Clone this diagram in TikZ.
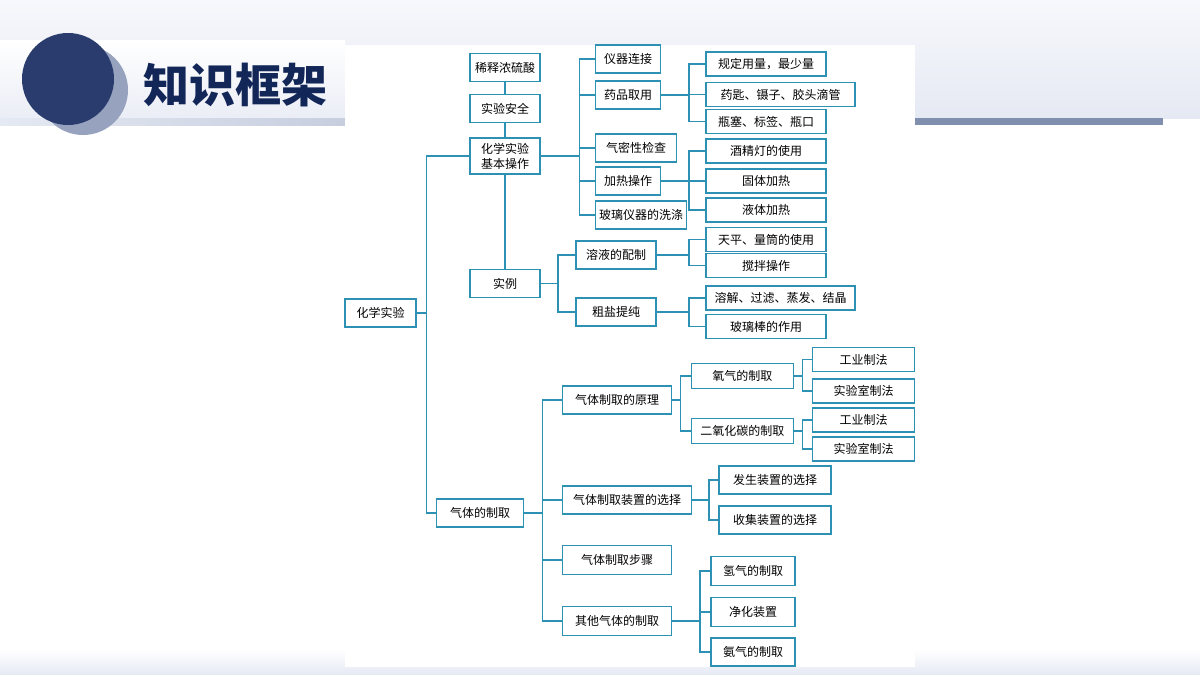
\documentclass[tikz,border=0pt]{standalone}
\usepackage{fontspec}
\setmainfont{Noto Sans CJK SC}
\usetikzlibrary{calc,positioning}
\definecolor{my_line}{RGB}{45,145,180}
\definecolor{my_navy}{RGB}{42,60,110}
\definecolor{my_shadow}{RGB}{150,162,190}
\definecolor{my_title}{RGB}{18,38,88}
\definecolor{my_bar}{RGB}{128,143,173}
\definecolor{my_top}{RGB}{247,248,252}
\definecolor{my_mid}{RGB}{229,233,243}
\tikzset{
  box_n/.style = {draw=my_line, line width=1.1pt, fill=white, inner sep=0pt, align=center,
  text=black, font=\fontsize{12}{15}\selectfont, minimum height=28pt},
  box_s/.style = {box_n, minimum height=24pt},
  link/.style = {draw=my_line, line width=1.1pt}
}

\begin{document}
\begin{tikzpicture}[x=1pt, y=-1pt]
  \useasboundingbox (0,0) rectangle (1200,675);
  % background
  \fill[white] (0,0) rectangle (1200,675);
  \shade[top color=my_top, bottom color=my_mid] (0,0) rectangle (1200,118);
  \shade[top color=white, bottom color=my_mid!80!white] (0,40) rectangle (345,118);
  \shade[left color=my_mid, right color=my_mid!70!my_bar] (0,118) rectangle (345,125);
  \fill[my_bar] (345,118) rectangle (1163,125);
  \shade[top color=white, bottom color=my_mid] (0,650) rectangle (1200,675);
  \fill[white] (345,45) rectangle (915,667);
  % title
  \fill[my_shadow] (83,90) circle (45);
  \fill[my_navy] (68,79) circle (46);
  \node[font=\fontsize{46}{50}\selectfont\bfseries, text=my_title] (title) at (235,85) {知识框架};

  % first level
  \node [box_n, minimum width=71pt] (hx) at (380.5,313) {化学实验};
  \node [box_n, minimum width=70pt] (xs) at (505,67.5) {稀释浓硫酸};
  \node [box_n, minimum width=70pt] (aq) at (505,108.5) {实验安全};
  \node [box_n, minimum width=70pt, minimum height=36pt] (jc) at (505,156) {化学实验\\基本操作};
  \node [box_n, minimum width=70pt] (sl) at (505,283.5) {实例};
  \node [box_n, minimum width=86.5pt] (qt) at (480,513) {气体的制取};

  % basic operations
  \node [box_n, minimum width=65pt] (yq) at (628,59) {仪器连接};
  \node [box_n, minimum width=65pt] (yp) at (628,95) {药品取用};
  \node [box_n, minimum width=80.5pt] (qm) at (636,148) {气密性检查};
  \node [box_n, minimum width=65pt] (jr) at (628,181) {加热操作};
  \node [box_n, minimum width=90.5pt] (bl) at (641,215) {玻璃仪器的洗涤};
  \node [box_s, minimum width=120pt] (gd) at (766,64) {规定用量，最少量};
  \node [box_s, minimum width=149pt] (yc) at (780.5,94.5) {药匙、镊子、胶头滴管};
  \node [box_s, minimum width=120pt] (ps) at (766,121.5) {瓶塞、标签、瓶口};
  \node [box_s, minimum width=120pt] (jj) at (766,151) {酒精灯的使用};
  \node [box_s, minimum width=120pt] (gt) at (766,181) {固体加热};
  \node [box_s, minimum width=120pt] (yt) at (766,210) {液体加热};

  % examples
  \node [box_n, minimum width=80pt] (rp) at (616,255) {溶液的配制};
  \node [box_n, minimum width=80pt] (cy) at (616,312) {粗盐提纯};
  \node [box_s, minimum width=120pt] (tp) at (766,239.5) {天平、量筒的使用};
  \node [box_s, minimum width=120pt] (jb) at (766,265.5) {搅拌操作};
  \node [box_s, minimum width=149pt] (rj) at (780.5,298) {溶解、过滤、蒸发、结晶};
  \node [box_s, minimum width=120pt] (bb) at (766,326.5) {玻璃棒的作用};

  % gas preparation
  \node [box_n, minimum width=109pt] (yl) at (617,400) {气体制取的原理};
  \node [box_n, minimum width=129pt] (zz) at (627,500) {气体制取装置的选择};
  \node [box_n, minimum width=109pt, minimum height=29pt] (bz) at (617,560) {气体制取步骤};
  \node [box_n, minimum width=109pt, minimum height=29pt] (qs) at (617,621) {其他气体的制取};
  \node [box_s, minimum width=101.5pt, minimum height=25pt] (o2) at (742.3,376) {氧气的制取};
  \node [box_s, minimum width=101.5pt, minimum height=25pt] (co) at (742.3,431) {二氧化碳的制取};
  \node [box_s, minimum width=101.5pt] (o2a) at (863.5,359.5) {工业制法};
  \node [box_s, minimum width=101.5pt] (o2b) at (863.5,391) {实验室制法};
  \node [box_s, minimum width=101.5pt] (coa) at (863.5,420) {工业制法};
  \node [box_s, minimum width=101.5pt] (cob) at (863.5,449) {实验室制法};
  \node [box_n, minimum width=112pt] (fs) at (775,480) {发生装置的选择};
  \node [box_n, minimum width=112pt] (sj) at (775,520) {收集装置的选择};
  \node [box_n, minimum width=84pt, minimum height=29pt] (h2) at (753,571) {氢气的制取};
  \node [box_n, minimum width=84pt, minimum height=29pt] (jh) at (753,612) {净化装置};
  \node [box_n, minimum width=84pt] (nh) at (753,652) {氨气的制取};

  % bus lines
  \coordinate (b0) at (426.5,0);
  \coordinate (b1) at (579.5,0);
  \coordinate (b2) at (689,0);
  \coordinate (b3) at (558,0);
  \coordinate (b4) at (542.7,0);
  \coordinate (b5) at (680.4,0);
  \coordinate (b6) at (802.4,0);
  \coordinate (b7) at (709,0);
  \coordinate (b8) at (700,0);

  \draw[link] (xs) -- (aq);
  \draw[link] (aq) -- (jc);
  \draw[link] (jc) -- (sl);
  \foreach \c in {jc,qt} \draw[link] (hx.east) -| (b0 |- \c.west) -- (\c.west);
  \foreach \c in {yq,yp,qm,jr,bl} \draw[link] (jc.east) -| (b1 |- \c.west) -- (\c.west);
  \foreach \c in {gd,yc,ps} \draw[link] (yp.east) -| (b2 |- \c.west) -- (\c.west);
  \foreach \c in {jj,gt,yt} \draw[link] (jr.east) -| (b2 |- \c.west) -- (\c.west);
  \foreach \c in {rp,cy} \draw[link] (sl.east) -| (b3 |- \c.west) -- (\c.west);
  \foreach \c in {tp,jb} \draw[link] (rp.east) -| (b2 |- \c.west) -- (\c.west);
  \foreach \c in {rj,bb} \draw[link] (cy.east) -| (b2 |- \c.west) -- (\c.west);
  \foreach \c in {yl,zz,bz,qs} \draw[link] (qt.east) -| (b4 |- \c.west) -- (\c.west);
  \foreach \c in {o2,co} \draw[link] (yl.east) -| (b5 |- \c.west) -- (\c.west);
  \foreach \c in {o2a,o2b} \draw[link] (o2.east) -| (b6 |- \c.west) -- (\c.west);
  \foreach \c in {coa,cob} \draw[link] (co.east) -| (b6 |- \c.west) -- (\c.west);
  \foreach \c in {fs,sj} \draw[link] (zz.east) -| (b7 |- \c.west) -- (\c.west);
  \foreach \c in {h2,jh,nh} \draw[link] (qs.east) -| (b8 |- \c.west) -- (\c.west);
\end{tikzpicture}
\end{document}
